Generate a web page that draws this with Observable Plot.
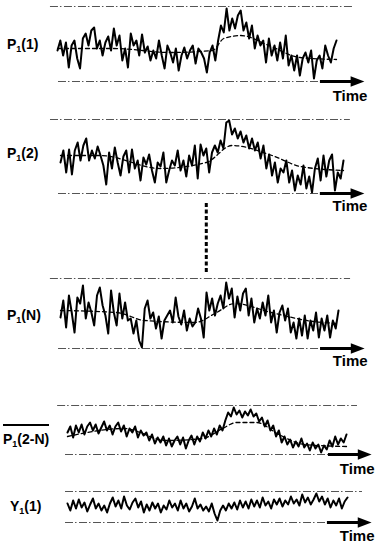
<!DOCTYPE html>
<html><head><meta charset="utf-8">
<script src="https://cdn.jsdelivr.net/npm/d3@7"></script>
<script src="https://cdn.jsdelivr.net/npm/@observablehq/plot@0.6"></script>
<style>
body{margin:0;background:#fff;}
#chart{position:relative;width:378px;height:550px;overflow:hidden;font-family:"Liberation Sans",Arial,sans-serif;}
.panel{position:absolute;left:0;}
.lab{position:absolute;font-weight:bold;font-size:14px;line-height:14px;color:#000;white-space:nowrap;}
.lab sub{font-size:9px;line-height:0;vertical-align:baseline;position:relative;top:3px;}
.over{border-top:2px solid #000;padding-top:6px;}
</style></head><body><div id="chart"></div><script>
// Series values (height above the lower dash-dot guide), one value per time step
const seriesP1_1 = [31,41,26,39,14,36,41,23,13,43,48,36,51,54,33,41,26,39,45,31,53,36,46,21,33,14,48,36,41,26,47,29,35,21,31,23,41,26,13,36,29,19,33,11,26,34,23,31,36,18,33,29,23,9,29,36,21,41,56,49,73,51,63,53,66,71,51,59,43,56,33,46,36,41,19,43,26,36,21,39,23,46,16,26,11,26,6,23,29,19,31,3,21,26,13,36,26,19,33,41];
const seriesP1_2 = [31,43,21,44,19,43,51,33,48,55,33,43,35,47,38,28,9,41,25,46,31,18,37,43,21,44,25,33,13,36,29,39,23,11,31,27,41,11,23,33,28,43,23,33,17,38,28,48,15,49,38,45,21,41,48,41,53,45,71,73,59,65,55,62,51,58,45,55,43,51,35,48,25,39,18,31,11,25,21,33,11,23,3,18,9,28,5,17,1,25,35,13,38,17,33,39,3,21,15,33];
const seriesP1_N = [31,48,21,53,36,16,51,45,63,30,46,36,23,53,61,43,33,15,58,36,23,55,30,46,28,30,15,28,8,1,40,48,30,36,20,32,10,28,33,38,26,51,32,24,38,18,30,22,26,40,30,11,56,38,50,33,45,53,40,66,50,60,31,52,38,55,60,33,50,26,40,30,46,33,53,26,38,16,36,43,28,40,16,26,10,30,13,33,10,28,18,36,11,30,18,33,11,28,20,38];
const seriesP1_2N = [22,28,17,29,22,30,20,28,32,24,30,21,27,33,24,29,20,28,32,23,29,18,26,22,28,17,24,19,22,14,20,11,17,12,18,9,16,8,14,18,10,17,6,14,19,10,18,13,22,16,24,18,26,20,29,24,34,42,38,47,40,44,37,43,39,45,38,41,33,37,28,34,24,29,18,24,12,18,10,15,7,13,8,16,7,11,4,12,6,10,2,9,5,14,8,18,10,16,12,20];
const seriesY1_1 = [19,12,22,14,23,15,20,11,18,24,14,19,12,17,10,19,25,16,22,14,26,17,13,20,24,15,21,10,18,12,20,14,19,10,17,13,22,15,19,12,22,14,19,11,16,24,14,18,12,16,11,19,9,2,12,17,12,19,14,20,13,22,15,21,14,23,16,22,15,25,17,21,14,23,18,24,16,22,18,26,19,23,17,28,20,25,18,23,29,21,26,18,24,15,22,17,24,14,21,25];
// Dashed underlying trends: [time step, level]
const trendP1_1 = [[0,33],[20,33],[40,29],[55,31],[59,43],[65,46],[75,36],[86,24],[99,22]];
const trendP1_2 = [[0,38],[14,38],[35,25],[51,31],[60,48],[74,38],[84,27],[99,23]];
const trendP1_N = [[0,38],[20,36],[30,28],[48,26],[55,35],[62,45],[75,36],[90,27],[99,25]];
const trendP1_2N = [[0,18],[20,26],[35,14],[48,16],[55,26],[60,32],[67,32],[75,20],[84,10],[99,8]];
const timeLabel = "Time";

const guideStyle = {stroke:"#555", strokeWidth:1, strokeDasharray:"8,2,1.5,2.5"};
const arrowHead = {draw(ctx, size){const r=Math.sqrt(size/Math.PI); ctx.moveTo(0,0); ctx.lineTo(-3*r,-1.15*r); ctx.lineTo(-3*r,1.15*r); ctx.closePath();}};

const chart = document.getElementById("chart");

function panel(cfg){
  const data = cfg.values.map((v,i)=>({t:i, v}));
  const marks = [
    Plot.ruleY([cfg.span], {x1:cfg.guideTop[0], x2:cfg.guideTop[1], ...guideStyle}),
    Plot.ruleY([0], {x1:cfg.guideBottom[0], x2:cfg.guideBottom[1], ...guideStyle})
  ];
  if (cfg.trend) marks.push(Plot.line(cfg.trend, {x:d=>d[0], y:d=>d[1], curve:"monotone-x", stroke:"#000", strokeWidth:1.3, strokeDasharray:"4,3"}));
  marks.push(Plot.line(data, {x:"t", y:"v", stroke:"#000", strokeWidth:2, strokeLinejoin:"round"}));
  marks.push(Plot.ruleY([0], {x1:cfg.arrow[0], x2:cfg.arrow[1]-2, stroke:"#000", strokeWidth:3}));
  marks.push(Plot.dot([{t:cfg.arrow[1], v:0}], {x:"t", y:"v", symbol:arrowHead, r:4.6, fill:"#000", stroke:null}));
  marks.push(Plot.text([{t:cfg.arrow[1], s:timeLabel}], {x:"t", text:"s", frameAnchor:"bottom", textAnchor:"end", lineAnchor:"top", dx:3, dy:cfg.timeDy, fontSize:15, fontWeight:"bold", fontFamily:"Liberation Sans, Arial, sans-serif", fill:"#000"}));
  const svg = Plot.plot({
    width:378, height:cfg.height,
    marginLeft:cfg.ml, marginRight:cfg.mr, marginTop:cfg.mt, marginBottom:cfg.mb,
    x:{domain:[0, cfg.values.length-1], axis:null},
    y:{domain:[0, cfg.span], axis:null},
    style:"background:transparent;overflow:visible;",
    marks
  });
  svg.classList.add("panel");
  svg.style.top = cfg.top + "px";
  chart.appendChild(svg);
}

function label(html, left, top, extra){
  const d = document.createElement("div");
  d.className = "lab" + (extra ? " " + extra : "");
  d.innerHTML = html;
  d.style.left = left + "px";
  d.style.top = top + "px";
  chart.appendChild(d);
}

panel({values:seriesP1_1, trend:trendP1_1, top:0, height:104, mt:6, mb:23, ml:57, mr:42, span:75,
  guideTop:[-2.5,105], guideBottom:[0.35,93.3], arrow:[93.3,108.9], timeDy:9});
panel({values:seriesP1_2, trend:trendP1_2, top:104, height:106, mt:15, mb:17, ml:60, mr:35, span:74,
  guideTop:[-3.5,101.4], guideBottom:[-0.7,90.9], arrow:[90.9,106.3], timeDy:7});

// vertical dashed connector (omitted intermediate channels)
{
  const svg = Plot.plot({
    width:378, height:75, marginLeft:60, marginRight:35, marginTop:3, marginBottom:3,
    x:{domain:[0,99], axis:null},
    style:"background:transparent;overflow:visible;",
    marks:[Plot.ruleX([51], {stroke:"#000", strokeWidth:3, strokeDasharray:"4,2.5"})]
  });
  svg.classList.add("panel");
  svg.style.top = "200px";
  chart.appendChild(svg);
}

panel({values:seriesP1_N, trend:trendP1_N, top:270, height:100, mt:8, mb:22, ml:60, mr:40, span:70,
  guideTop:[-3.6,103.3], guideBottom:[-0.7,92.6], arrow:[92.6,108.3], timeDy:7});
panel({values:seriesP1_2N, trend:trendP1_2N, top:390, height:86, mt:15, mb:22, ml:67, mr:32, span:49,
  guideTop:[-3.5,102.9], guideBottom:[-0.7,92.6], arrow:[92.6,107.9], timeDy:9});
panel({values:seriesY1_1, trend:null, top:476, height:74, mt:15, mb:28, ml:67, mr:31, span:31,
  guideTop:[-0.7,104.3], guideBottom:[-0.7,91.9], arrow:[91.9,107.5], timeDy:8});

label("P<sub>1</sub>(1)", 7, 37);
label("P<sub>1</sub>(2)", 7, 146);
label("P<sub>1</sub>(N)", 7, 308);
label("P<sub>1</sub>(2-N)", 3, 424, "over");
label("Y<sub>1</sub>(1)", 10, 499);
</script></body></html>
